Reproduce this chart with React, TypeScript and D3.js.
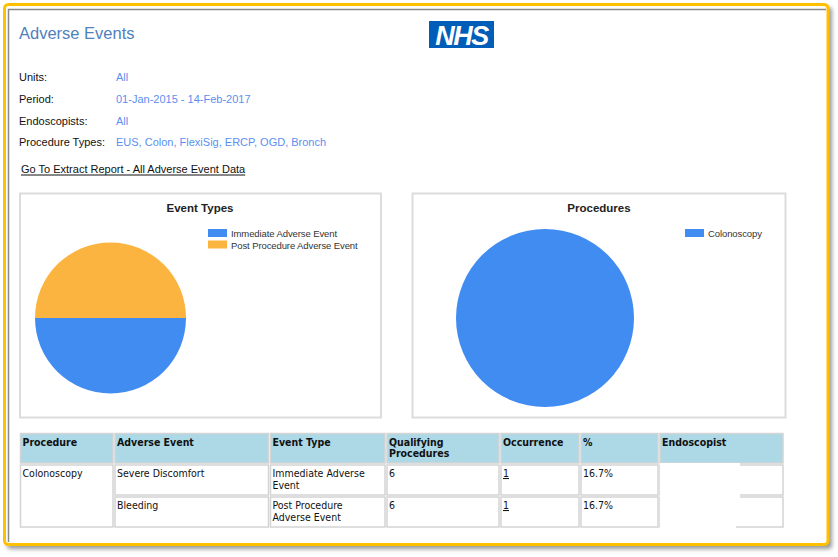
import React, { useEffect, useRef } from "react";
import * as d3 from "d3";

// ── Data ─────────────────────────────────────────────────────────────────
const eventTypes = ["Immediate Adverse Event", "Post Procedure Adverse Event"];
const eventCounts = [1, 1];
const procedureNames = ["Colonoscopy"];
const procedureCounts = [2];

const infoLabels = ["Units:", "Period:", "Endoscopists:", "Procedure Types:"];
const infoValues = ["All", "01-Jan-2015 - 14-Feb-2017", "All", "EUS, Colon, FlexiSig, ERCP, OGD, Bronch"];

const tableHeaders = [["Procedure"], ["Adverse Event"], ["Event Type"], ["Qualifying", "Procedures"], ["Occurrence"], ["%"], ["Endoscopist"]];
const rowAdverseEvents = ["Severe Discomfort", "Bleeding"];
const rowEventTypes = [["Immediate Adverse", "Event"], ["Post Procedure", "Adverse Event"]];
const rowQualifying = [6, 6];
const rowOccurrence = [1, 1];
const rowPercent = ["16.7%", "16.7%"];

const PALETTE = ["#418CF0", "#FCB441"];

const App: React.FC = () => {
    const svgRef = useRef<SVGSVGElement | null>(null);

    useEffect(() => {
        if (!svgRef.current) return;
        const W = 838, H = 557;
        const svg = d3.select(svgRef.current);
        svg.selectAll("*").remove();
        svg.attr("width", W).attr("height", H).attr("viewBox", `0 0 ${W} ${H}`);

        const defs = svg.append("defs");
        const blur = defs.append("filter").attr("id", "shadow").attr("x", "-5%").attr("y", "-5%").attr("width", "110%").attr("height", "110%");
        blur.append("feGaussianBlur").attr("stdDeviation", 2);

        svg.append("rect").attr("width", W).attr("height", H).attr("fill", "#fff");

        // ── Frame ──────────────────────────────────────────────────────────
        svg.append("rect").attr("x", 7).attr("y", 7).attr("width", 825).attr("height", 542)
            .attr("rx", 4).attr("fill", "#999").attr("filter", "url(#shadow)");
        svg.append("rect").attr("x", 4.5).attr("y", 4.5).attr("width", 823.5).attr("height", 540)
            .attr("rx", 4).attr("fill", "#fff").attr("stroke", "#FFC000").attr("stroke-width", 3);
        svg.append("path").attr("d", "M8.5,542 L8.5,9.5 L826,9.5").attr("fill", "none").attr("stroke", "#888").attr("stroke-width", 1.5);

        const sans = "Arial, 'Liberation Sans', sans-serif";
        const tab = "'DejaVu Sans Condensed', 'DejaVu Sans', sans-serif";

        // ── Header ─────────────────────────────────────────────────────────
        svg.append("text").attr("x", 19).attr("y", 39).attr("font-family", sans).attr("font-size", 16.5)
            .attr("fill", "#4F81BD").text("Adverse Events");

        svg.append("rect").attr("x", 429).attr("y", 21).attr("width", 65).attr("height", 27).attr("fill", "#005EB8");
        svg.append("text").attr("x", 461.5).attr("y", 44.5).attr("text-anchor", "middle").attr("font-family", sans)
            .attr("font-size", 27).attr("font-weight", "bold").attr("font-style", "italic").attr("fill", "#fff")
            .attr("letter-spacing", -1.5).text("NHS");

        const infoY = d3.scaleBand<number>().domain(d3.range(infoLabels.length)).range([70, 157]);
        infoLabels.forEach((l, i) => {
            const y = (infoY(i) ?? 0) + 11;
            svg.append("text").attr("x", 19).attr("y", y).attr("font-family", sans).attr("font-size", 11).attr("fill", "#111").text(l);
            svg.append("text").attr("x", 116).attr("y", y).attr("font-family", sans).attr("font-size", 11).attr("fill", "#5B8FF0").text(infoValues[i]);
        });
        const link = svg.append("text").attr("x", 21).attr("y", 173).attr("font-family", sans).attr("font-size", 11)
            .attr("fill", "#111").text("Go To Extract Report - All Adverse Event Data");
        const lw = (link.node() as SVGTextElement).getComputedTextLength();
        svg.append("line").attr("x1", 21).attr("x2", 21 + lw).attr("y1", 175).attr("y2", 175).attr("stroke", "#111").attr("stroke-width", 1);

        // ── Pie charts ─────────────────────────────────────────────────────
        const drawPie = (box: { x: number; w: number }, title: string, titleX: number, names: string[], values: number[],
            cx: number, cy: number, r: number, legendX: number) => {
            svg.append("rect").attr("x", box.x).attr("y", 193.5).attr("width", box.w).attr("height", 224)
                .attr("fill", "#fff").attr("stroke", "#dcdcdc").attr("stroke-width", 2);
            svg.append("text").attr("x", titleX).attr("y", 212).attr("text-anchor", "middle").attr("font-family", sans)
                .attr("font-size", 11.5).attr("font-weight", "bold").attr("fill", "#222").text(title);
            const pie = d3.pie<number>().sort(null).startAngle(Math.PI / 2).endAngle(Math.PI * 2.5);
            const arc = d3.arc<d3.PieArcDatum<number>>().innerRadius(0).outerRadius(r);
            const color = d3.scaleOrdinal<number, string>().domain(d3.range(names.length)).range(PALETTE);
            const g = svg.append("g").attr("transform", `translate(${cx},${cy})`);
            g.selectAll("path").data(pie(values)).enter().append("path")
                .attr("d", arc).attr("fill", (_, i) => color(i));
            names.forEach((n, i) => {
                const y = 229 + i * 11.5;
                svg.append("rect").attr("x", legendX).attr("y", y).attr("width", 19).attr("height", 8).attr("fill", color(i));
                svg.append("text").attr("x", legendX + 23).attr("y", y + 8).attr("font-family", sans).attr("font-size", 9.5)
                    .attr("letter-spacing", -0.1).attr("fill", "#333").text(n);
            });
        };
        drawPie({ x: 20, w: 361 }, "Event Types", 200, eventTypes, eventCounts, 110.5, 318, 75.5, 208);
        drawPie({ x: 412.5, w: 373 }, "Procedures", 599, procedureNames, procedureCounts, 545, 318, 89, 685);

        // ── Table ──────────────────────────────────────────────────────────
        const colEdges = [19.5, 114, 269.5, 386, 500, 580, 659, 784];
        const rowEdges = [432.5, 464, 496, 528];
        const cell = (c0: number, c1: number, r0: number, r1: number, fill: string) => {
            svg.append("rect").attr("x", colEdges[c0] + 1).attr("y", rowEdges[r0] + 1)
                .attr("width", colEdges[c1] - colEdges[c0] - 2).attr("height", rowEdges[r1] - rowEdges[r0] - 2)
                .attr("fill", fill).attr("stroke", "#d4d4d4").attr("stroke-width", 1.5);
        };
        const cellText = (c: number, r: number, lines: (string | number)[], bold = false, underline = false) => {
            lines.forEach((l, i) => {
                const t = svg.append("text").attr("x", colEdges[c] + 3).attr("y", rowEdges[r] + 13 + i * 11.5)
                    .attr("font-family", tab).attr("font-size", 10.5).attr("fill", "#111")
                    .attr("font-weight", bold ? "bold" : "normal").text(String(l));
                if (underline) t.attr("text-decoration", "underline");
            });
        };
        tableHeaders.forEach((h, c) => { cell(c, c + 1, 0, 1, "#ADD8E6"); cellText(c, 0, h, true); });
        cell(0, 1, 1, 3, "#fff");
        cellText(0, 1, [procedureNames[0]]);
        rowAdverseEvents.forEach((ev, i) => {
            const r = i + 1;
            for (let c = 1; c < 7; c++) cell(c, c + 1, r, r + 1, "#fff");
            cellText(1, r, [ev]);
            cellText(2, r, rowEventTypes[i]);
            cellText(3, r, [rowQualifying[i]]);
            cellText(4, r, [rowOccurrence[i]], false, true);
            cellText(5, r, [rowPercent[i]]);
        });
        // redacted endoscopist names
        svg.append("rect").attr("x", 660).attr("y", 463).attr("width", 80).attr("height", 35).attr("fill", "#fff");
        svg.append("rect").attr("x", 660).attr("y", 498).attr("width", 76).attr("height", 30).attr("fill", "#fff");
    }, []);

    return (
        <div style={{ position: "absolute", left: 0, top: 0 }}>
            <svg ref={svgRef} style={{ display: "block" }} />
        </div>
    );
};

export default App;
